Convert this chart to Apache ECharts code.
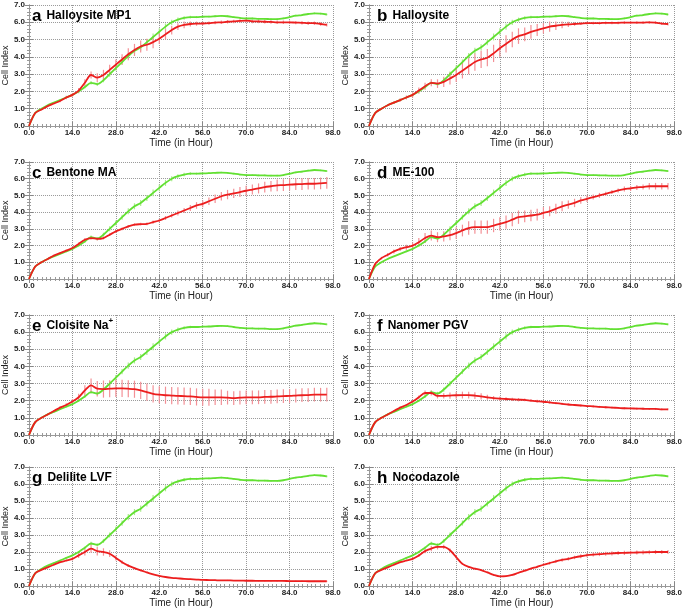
<!DOCTYPE html>
<html>
<head>
<meta charset="utf-8">
<script src="https://cdn.jsdelivr.net/npm/echarts@6/dist/echarts.min.js"></script>
<style>
  html, body { margin: 0; padding: 0; background: #fff; }
  #main { width: 685px; height: 609px; }
</style>
</head>
<body>
<div id="main"></div>
<script>
// time points (hours), every 2 h
var hours = [0, 2, 4, 6, 8, 10, 12, 14, 16, 18, 20, 22, 24, 26, 28, 30, 32, 34, 36, 38,
  40, 42, 44, 46, 48, 50, 52, 54, 56, 58, 60, 62, 64, 66, 68, 70, 72, 74, 76, 78,
  80, 82, 84, 86, 88, 90, 92, 94, 96]
var xTicks = [0, 14, 28, 42, 56, 70, 84, 98]
var yTicks = [0, 1, 2, 3, 4, 5, 6, 7]

var panelLetters = ['a', 'b', 'c', 'd', 'e', 'f', 'g', 'h']
var panelNames = ['Halloysite MP1', 'Halloysite', 'Bentone MA', 'ME-100',
  'Cloisite Na', 'Nanomer PGV', 'Delilite LVF', 'Nocodazole']

// control (green), same in every panel
var control = [0, 0.75, 1.0, 1.2, 1.35, 1.5, 1.65, 1.8, 2.0, 2.25,
  2.5, 2.42, 2.65, 3.0, 3.35, 3.7, 4.05, 4.35, 4.55, 4.85,
  5.15, 5.45, 5.75, 6.0, 6.15, 6.25, 6.3, 6.3, 6.32, 6.33,
  6.35, 6.37, 6.35, 6.3, 6.25, 6.22, 6.22, 6.2, 6.2, 6.18,
  6.18, 6.22, 6.3, 6.38, 6.42, 6.48, 6.52, 6.5, 6.45]
var controlErr = [0, 0.03, 0.03, 0.03, 0.04, 0.04, 0.05, 0.05, 0.06, 0.08,
  0.1, 0.1, 0.12, 0.15, 0.15, 0.15, 0.18, 0.18, 0.18, 0.18,
  0.2, 0.2, 0.18, 0.15, 0.12, 0.1, 0.08, 0.06, 0.05, 0.05,
  0.05, 0.05, 0.05, 0.05, 0.05, 0.05, 0.05, 0.05, 0.05, 0.05,
  0.05, 0.05, 0.05, 0.05, 0.05, 0.05, 0.05, 0.05, 0.05]

// treated (red) per panel
var redA = [0, 0.75, 0.95, 1.15, 1.3, 1.45, 1.65, 1.8, 2.05, 2.5,
  2.95, 2.8, 2.95, 3.25, 3.55, 3.85, 4.15, 4.4, 4.6, 4.7,
  4.85, 5.05, 5.3, 5.55, 5.75, 5.85, 5.9, 5.92, 5.93, 5.95,
  5.98, 6.0, 6.03, 6.05, 6.08, 6.1, 6.05, 6.05, 6.03, 6.02,
  6.0, 6.0, 6.0, 5.98, 5.97, 5.95, 5.95, 5.9, 5.85]
var errA = [0.02, 0.05, 0.05, 0.05, 0.06, 0.08, 0.1, 0.1, 0.15, 0.2,
  0.2, 0.25, 0.3, 0.3, 0.3, 0.3, 0.35, 0.35, 0.35, 0.35,
  0.35, 0.3, 0.3, 0.25, 0.2, 0.2, 0.15, 0.12, 0.1, 0.1,
  0.1, 0.1, 0.1, 0.1, 0.1, 0.1, 0.1, 0.1, 0.1, 0.1,
  0.1, 0.1, 0.1, 0.1, 0.1, 0.1, 0.1, 0.1, 0.1]
var redB = [0, 0.75, 1.0, 1.2, 1.35, 1.5, 1.65, 1.8, 2.05, 2.3,
  2.5, 2.45, 2.55, 2.75, 2.95, 3.2, 3.45, 3.7, 3.85, 3.95,
  4.2, 4.5, 4.75, 5.0, 5.2, 5.3, 5.45, 5.55, 5.65, 5.75,
  5.8, 5.85, 5.88, 5.9, 5.92, 5.95, 5.95, 5.95, 5.97, 5.97,
  5.97, 5.98, 5.98, 5.98, 5.98, 6.0, 5.98, 5.92, 5.9]
var errB = [0.02, 0.05, 0.05, 0.05, 0.08, 0.1, 0.12, 0.15, 0.18, 0.2,
  0.2, 0.25, 0.3, 0.35, 0.4, 0.45, 0.45, 0.5, 0.5, 0.5,
  0.5, 0.5, 0.5, 0.45, 0.45, 0.4, 0.4, 0.35, 0.3, 0.3,
  0.25, 0.2, 0.15, 0.1, 0.08, 0.08, 0.08, 0.08, 0.08, 0.08,
  0.08, 0.08, 0.08, 0.08, 0.08, 0.08, 0.08, 0.08, 0.08]
var redC = [0, 0.75, 1.0, 1.2, 1.4, 1.55, 1.7, 1.85, 2.1, 2.35,
  2.45, 2.4, 2.45, 2.65, 2.85, 3.0, 3.15, 3.25, 3.28, 3.3,
  3.4, 3.5, 3.65, 3.8, 3.95, 4.1, 4.25, 4.4, 4.5, 4.65,
  4.8, 4.95, 5.05, 5.12, 5.2, 5.28, 5.35, 5.42, 5.5, 5.55,
  5.6, 5.62, 5.65, 5.67, 5.68, 5.7, 5.7, 5.72, 5.75]
var errC = [0.02, 0.03, 0.03, 0.04, 0.05, 0.05, 0.06, 0.06, 0.08, 0.1,
  0.1, 0.1, 0.08, 0.08, 0.08, 0.08, 0.08, 0.08, 0.08, 0.08,
  0.1, 0.1, 0.12, 0.12, 0.15, 0.15, 0.18, 0.2, 0.2, 0.22,
  0.25, 0.25, 0.28, 0.28, 0.3, 0.3, 0.3, 0.3, 0.32, 0.32,
  0.35, 0.35, 0.35, 0.35, 0.35, 0.35, 0.35, 0.35, 0.35]
var redD = [0, 0.9, 1.25, 1.45, 1.65, 1.8, 1.9, 2.0, 2.2, 2.45,
  2.6, 2.5, 2.55, 2.62, 2.75, 2.9, 3.05, 3.1, 3.1, 3.1,
  3.2, 3.3, 3.4, 3.55, 3.7, 3.75, 3.8, 3.85, 3.95, 4.05,
  4.2, 4.35, 4.45, 4.55, 4.7, 4.8, 4.9, 5.0, 5.1, 5.2,
  5.3, 5.38, 5.42, 5.48, 5.5, 5.55, 5.55, 5.55, 5.55]
var errD = [0.02, 0.05, 0.08, 0.1, 0.12, 0.12, 0.15, 0.18, 0.25, 0.3,
  0.3, 0.3, 0.3, 0.3, 0.35, 0.35, 0.4, 0.4, 0.4, 0.4,
  0.4, 0.4, 0.4, 0.4, 0.4, 0.35, 0.35, 0.35, 0.35, 0.3,
  0.3, 0.3, 0.25, 0.25, 0.2, 0.2, 0.15, 0.15, 0.12, 0.12,
  0.12, 0.15, 0.15, 0.15, 0.15, 0.2, 0.2, 0.2, 0.2]
var redE = [0, 0.75, 1.0, 1.2, 1.4, 1.6, 1.75, 1.95, 2.2, 2.6,
  2.9, 2.7, 2.68, 2.7, 2.72, 2.72, 2.7, 2.67, 2.6, 2.5,
  2.4, 2.35, 2.32, 2.3, 2.28, 2.27, 2.25, 2.22, 2.2, 2.2,
  2.2, 2.2, 2.18, 2.15, 2.18, 2.2, 2.2, 2.2, 2.22, 2.23,
  2.25, 2.27, 2.28, 2.3, 2.32, 2.33, 2.35, 2.35, 2.35]
var errE = [0.02, 0.03, 0.04, 0.05, 0.06, 0.08, 0.1, 0.15, 0.2, 0.3,
  0.4, 0.45, 0.5, 0.5, 0.5, 0.5, 0.5, 0.5, 0.5, 0.5,
  0.5, 0.5, 0.5, 0.5, 0.5, 0.5, 0.5, 0.5, 0.5, 0.5,
  0.45, 0.45, 0.4, 0.4, 0.4, 0.4, 0.4, 0.4, 0.4, 0.4,
  0.4, 0.4, 0.4, 0.4, 0.4, 0.4, 0.4, 0.4, 0.4]
var redF = [0, 0.75, 1.0, 1.2, 1.4, 1.6, 1.75, 1.95, 2.2, 2.45,
  2.45, 2.28, 2.28, 2.3, 2.32, 2.33, 2.33, 2.3, 2.25, 2.2,
  2.15, 2.12, 2.1, 2.08, 2.06, 2.05, 2.0, 1.97, 1.94, 1.9,
  1.86, 1.82, 1.78, 1.75, 1.72, 1.69, 1.67, 1.64, 1.62, 1.6,
  1.58, 1.56, 1.55, 1.54, 1.53, 1.52, 1.52, 1.5, 1.5]
var errF = [0.02, 0.03, 0.04, 0.05, 0.05, 0.06, 0.06, 0.08, 0.1, 0.15,
  0.15, 0.15, 0.15, 0.18, 0.2, 0.2, 0.2, 0.2, 0.18, 0.15,
  0.12, 0.12, 0.1, 0.1, 0.1, 0.08, 0.08, 0.08, 0.08, 0.08,
  0.06, 0.06, 0.06, 0.06, 0.06, 0.06, 0.06, 0.06, 0.06, 0.06,
  0.06, 0.06, 0.06, 0.06, 0.06, 0.06, 0.06, 0.06, 0.06]
var redG = [0, 0.75, 0.95, 1.1, 1.25, 1.4, 1.5, 1.6, 1.8, 2.0,
  2.2, 2.05, 2.0, 1.9, 1.65, 1.4, 1.2, 1.05, 0.92, 0.8,
  0.68, 0.6, 0.53, 0.48, 0.45, 0.42, 0.4, 0.38, 0.36, 0.35,
  0.34, 0.33, 0.33, 0.32, 0.32, 0.31, 0.31, 0.3, 0.3, 0.3,
  0.3, 0.3, 0.29, 0.29, 0.29, 0.28, 0.28, 0.28, 0.28]
var errG = [0.02, 0.03, 0.04, 0.05, 0.05, 0.06, 0.08, 0.1, 0.15, 0.2,
  0.25, 0.25, 0.22, 0.2, 0.15, 0.1, 0.08, 0.06, 0.05, 0.05,
  0.04, 0.04, 0.03, 0.03, 0.03, 0.03, 0.03, 0.03, 0.03, 0.03,
  0.03, 0.03, 0.03, 0.03, 0.03, 0.03, 0.03, 0.03, 0.03, 0.03,
  0.03, 0.03, 0.03, 0.03, 0.03, 0.03, 0.03, 0.03, 0.03]
var redH = [0, 0.75, 0.95, 1.1, 1.25, 1.4, 1.5, 1.6, 1.8, 2.05,
  2.2, 2.3, 2.3, 2.1, 1.7, 1.3, 1.12, 1.02, 0.93, 0.8,
  0.66, 0.57, 0.58, 0.65, 0.78, 0.9, 1.02, 1.13, 1.25, 1.35,
  1.45, 1.53, 1.6, 1.68, 1.75, 1.81, 1.85, 1.88, 1.9, 1.92,
  1.94, 1.95, 1.96, 1.97, 1.98, 1.99, 2.0, 2.0, 2.0]
var errH = [0.02, 0.03, 0.04, 0.05, 0.05, 0.06, 0.06, 0.08, 0.1, 0.12,
  0.15, 0.15, 0.12, 0.1, 0.08, 0.06, 0.05, 0.05, 0.05, 0.05,
  0.04, 0.04, 0.04, 0.04, 0.05, 0.05, 0.06, 0.06, 0.08, 0.08,
  0.1, 0.1, 0.1, 0.1, 0.12, 0.12, 0.12, 0.12, 0.12, 0.12,
  0.12, 0.12, 0.12, 0.12, 0.12, 0.12, 0.12, 0.12, 0.12]

var treated = [redA, redB, redC, redD, redE, redF, redG, redH]
var treatedErr = [errA, errB, errC, errD, errE, errF, errG, errH]

var FONT = '"Liberation Sans", Arial, sans-serif'
var GREEN = '#62e032'
var RED = '#ec1e1e'
var cols = [{ left: 24, width: 309 }, { left: 369, width: 310 }]
var rows = [{ top: 5, height: 121 }, { top: 162, height: 117 }, { top: 315, height: 120 }, { top: 467, height: 120 }]

function pairs (vals) {
  return hours.map(function (h, i) { return [h, vals[i]] })
}
function bars (vals, errs) {
  return hours.map(function (h, i) { return [h, vals[i] - errs[i], vals[i] + errs[i]] })
}
function errRender (color) {
  return function (params, api) {
    var p1 = api.coord([api.value(0), api.value(1)])
    var p2 = api.coord([api.value(0), api.value(2)])
    return {
      type: 'line',
      shape: { x1: p1[0], y1: p1[1], x2: p2[0], y2: p2[1] },
      style: { stroke: color, lineWidth: 1.2 }
    }
  }
}

var grids = []
var xAxes = []
var yAxes = []
var titles = []
var series = []

for (var i = 0; i < 8; i++) {
  var c = cols[i % 2]
  var r = rows[Math.floor(i / 2)]
  grids.push({ left: c.left, top: r.top, width: c.width, height: r.height })

  var tickStyle = { show: true, inside: true, length: 4, lineStyle: { color: '#888' } }
  var frameLine = { show: true, lineStyle: { color: '#999', width: 1 } }
  var gridLine = { show: true, lineStyle: { color: '#999', type: 'dotted' } }
  xAxes.push({
    gridIndex: i, type: 'value', min: xTicks[0], max: xTicks[xTicks.length - 1], interval: 14,
    axisLine: frameLine, axisTick: tickStyle,
    minorTick: { show: true, splitNumber: 10, length: 2, lineStyle: { color: '#999' } },
    splitLine: gridLine,
    axisLabel: {
      fontSize: 8, fontWeight: 'bold', color: '#222', margin: 3, fontFamily: FONT,
      formatter: function (v) { return v.toFixed(1) }
    },
    name: 'Time (in Hour)', nameLocation: 'middle', nameGap: 12,
    nameTextStyle: { fontSize: 10, color: '#222', fontFamily: FONT }
  })
  xAxes.push({
    gridIndex: i, type: 'value', position: 'top', min: 0, max: 98, interval: 14,
    axisLine: frameLine, axisTick: tickStyle,
    minorTick: { show: true, splitNumber: 10, length: 2, lineStyle: { color: '#999' } },
    splitLine: { show: false }, axisLabel: { show: false }
  })
  yAxes.push({
    gridIndex: i, type: 'value', min: yTicks[0], max: yTicks[yTicks.length - 1], interval: 1,
    axisLine: frameLine, axisTick: tickStyle,
    minorTick: { show: true, splitNumber: 5, length: 2, lineStyle: { color: '#999' } },
    splitLine: gridLine,
    axisLabel: {
      fontSize: 8, fontWeight: 'bold', color: '#222', margin: 4, fontFamily: FONT,
      formatter: function (v) { return v.toFixed(1) }
    },
    name: 'Cell Index', nameLocation: 'middle', nameGap: 16,
    nameTextStyle: { fontSize: 9, color: '#222', fontFamily: FONT }
  })
  yAxes.push({
    gridIndex: i, type: 'value', position: 'right', min: 0, max: 7, interval: 1,
    axisLine: frameLine, axisTick: tickStyle,
    minorTick: { show: true, splitNumber: 5, length: 2, lineStyle: { color: '#999' } },
    splitLine: { show: false }, axisLabel: { show: false }
  })

  var label = '{l|' + panelLetters[i] + '} {n|' + panelNames[i] + '}'
  if (i === 4) label += '{s|+}'
  titles.push({
    left: c.left + 8, top: r.top + 2, padding: 0,
    text: label,
    textStyle: {
      fontFamily: FONT,
      rich: {
        l: { fontSize: 17, fontWeight: 'bold', color: '#000', fontFamily: FONT },
        n: { fontSize: 12, fontWeight: 'bold', color: '#000', fontFamily: FONT },
        s: { fontSize: 8, fontWeight: 'bold', color: '#000', fontFamily: FONT, verticalAlign: 'top', padding: [0, 0, 8, 0] }
      }
    }
  })

  var ax = 2 * i
  series.push({
    type: 'custom', xAxisIndex: ax, yAxisIndex: ax, silent: true, z: 1,
    renderItem: errRender('#aaec8c'), encode: { x: 0, y: [1, 2] },
    data: bars(control, controlErr)
  })
  series.push({
    type: 'custom', xAxisIndex: ax, yAxisIndex: ax, silent: true, z: 1,
    renderItem: errRender('#f39096'), encode: { x: 0, y: [1, 2] },
    data: bars(treated[i], treatedErr[i])
  })
  series.push({
    type: 'line', xAxisIndex: ax, yAxisIndex: ax, z: 3, smooth: 0.3,
    showSymbol: false, lineStyle: { color: GREEN, width: 1.8 },
    data: pairs(control)
  })
  series.push({
    type: 'line', xAxisIndex: ax, yAxisIndex: ax, z: 4, smooth: 0.3,
    showSymbol: false, lineStyle: { color: RED, width: 1.8 },
    data: pairs(treated[i])
  })
}

var chart = echarts.init(document.getElementById('main'), null, { renderer: 'canvas' })
chart.setOption({
  animation: false,
  backgroundColor: '#fff',
  title: titles,
  grid: grids,
  xAxis: xAxes,
  yAxis: yAxes,
  series: series
})
</script>
</body>
</html>
